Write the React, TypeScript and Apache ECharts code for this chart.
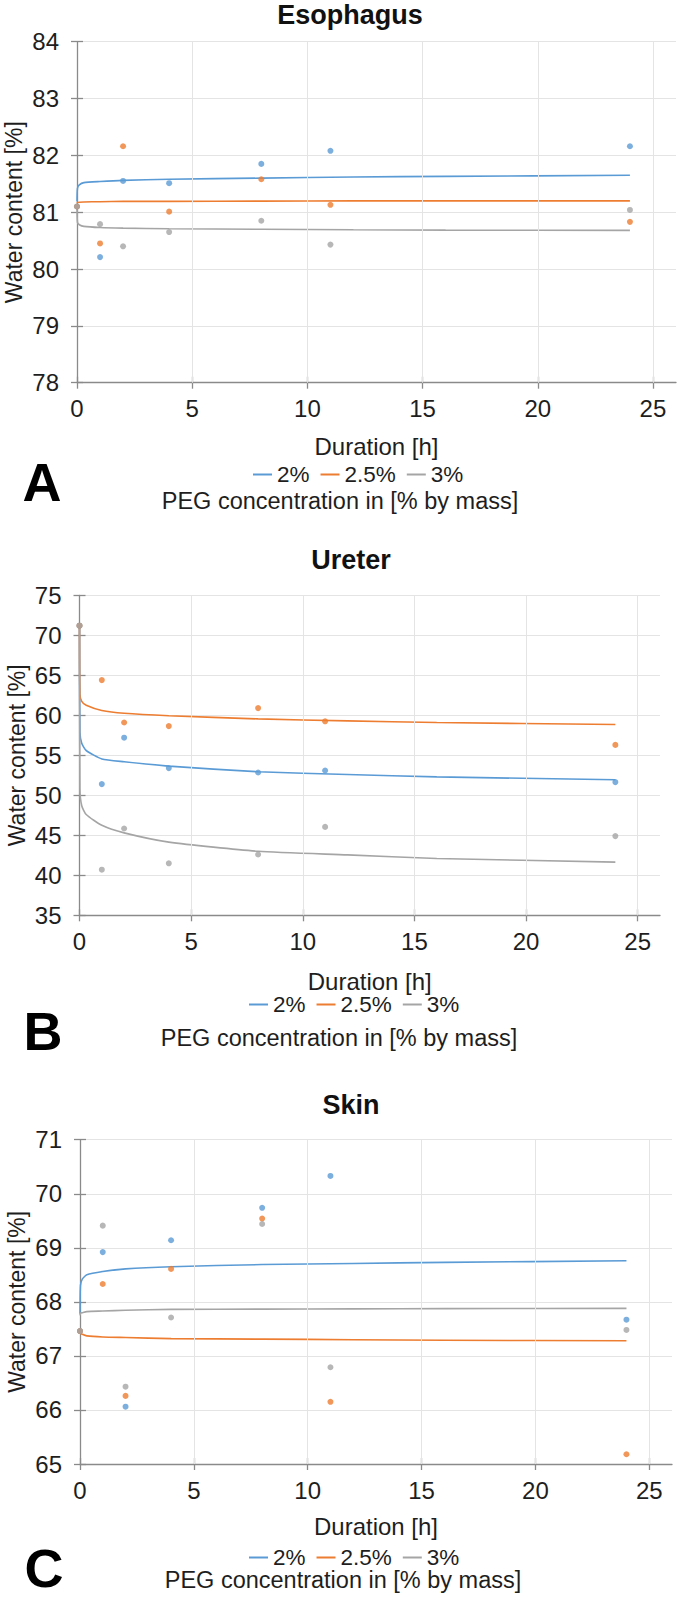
import React, { useEffect, useRef } from 'react';
import * as echarts from 'echarts';

const FONT = "'Liberation Sans', Arial, Helvetica, sans-serif";
const BLUE = '#5B9BD5';
const ORANGE = '#ED7D31';
const GRAY = '#A5A5A5';
const COLORS = [BLUE, ORANGE, GRAY];
const TEXT = '#1e1e1e';
const AXIS = '#8a8a8a';
const GRID = '#e4e4e4';

// ---- data ----
const seriesNames = ['2%', '2.5%', '3%'];
const hours = [0, 1, 2, 4, 8, 11, 24];
const trendHours = [0, 0.02, 0.1, 0.3, 1, 2, 4, 8, 12, 16, 24];
const xTicks = [0, 5, 10, 15, 20, 25];

// Esophagus
const esoBlue = [81.1, 80.21, 81.55, 81.51, 81.85, 82.08, 82.16];
const esoOrange = [81.1, 80.45, 82.16, 81.01, 81.58, 81.13, 80.83];
const esoGray = [81.1, 80.79, 80.4, 80.65, 80.85, 80.43, 81.04];
const esoBlueTrend = [81.19, 81.42, 81.48, 81.52, 81.54, 81.56, 81.58, 81.6, 81.62, 81.63, 81.65];
const esoOrangeTrend = [81.16, 81.17, 81.175, 81.18, 81.185, 81.19, 81.19, 81.195, 81.2, 81.2, 81.2];
const esoGrayTrend = [81.1, 80.82, 80.78, 80.75, 80.73, 80.72, 80.71, 80.7, 80.69, 80.685, 80.68];

// Ureter
const ureBlue = [71.2, 51.4, 57.2, 53.4, 52.85, 53.1, 51.65];
const ureOrange = [71.2, 64.4, 59.1, 58.65, 60.9, 59.25, 56.3];
const ureGray = [71.2, 40.7, 45.85, 41.5, 42.6, 46.05, 44.9];
const ureBlueTrend = [71.2, 57.9, 56.5, 55.6, 54.55, 54.2, 53.65, 52.95, 52.6, 52.3, 51.95];
const ureOrangeTrend = [71.2, 62.6, 61.75, 61.25, 60.6, 60.25, 59.95, 59.55, 59.3, 59.1, 58.85];
const ureGrayTrend = [71.2, 50.8, 48.7, 47.6, 46.25, 45.3, 44.15, 43.0, 42.55, 42.1, 41.65];

// Skin
const skinBlue = [67.46, 68.92, 66.06, 69.14, 69.74, 70.33, 67.67];
const skinOrange = [67.46, 68.33, 66.26, 68.61, 69.54, 66.15, 65.18];
const skinGray = [67.46, 69.41, 66.43, 67.71, 69.44, 66.79, 67.48];
const skinBlueTrend = [67.78, 68.3, 68.42, 68.5, 68.56, 68.61, 68.65, 68.69, 68.71, 68.73, 68.76];
const skinOrangeTrend = [67.46, 67.42, 67.4, 67.37, 67.35, 67.34, 67.32, 67.31, 67.3, 67.29, 67.28];
const skinGrayTrend = [67.75, 67.79, 67.8, 67.82, 67.83, 67.845, 67.86, 67.865, 67.87, 67.875, 67.88];

const panels = [
  { title: 'Esophagus', letter: 'A', yMin: 78, yMax: 84, yStep: 1,
    points: [esoBlue, esoOrange, esoGray], trends: [esoBlueTrend, esoOrangeTrend, esoGrayTrend] },
  { title: 'Ureter', letter: 'B', yMin: 35, yMax: 75, yStep: 5,
    points: [ureBlue, ureOrange, ureGray], trends: [ureBlueTrend, ureOrangeTrend, ureGrayTrend] },
  { title: 'Skin', letter: 'C', yMin: 65, yMax: 71, yStep: 1,
    points: [skinBlue, skinOrange, skinGray], trends: [skinBlueTrend, skinOrangeTrend, skinGrayTrend] },
];

// ---- layout ----
const layouts = [
  { left: 77, right: 676, top: 41.7, bottom: 382.7, titleX: 350, titleY: 15, yNameX: 14, durY: 446,
    legendLeft: 253, legendY: 474, pegX: 340, pegY: 501, letterX: 42, letterY: 482 },
  { left: 79.5, right: 660, top: 595.3, bottom: 915.3, titleX: 351, titleY: 560, yNameX: 17, durY: 981,
    legendLeft: 249, legendY: 1004, pegX: 339, pegY: 1038, letterX: 43, letterY: 1031 },
  { left: 80, right: 672, top: 1139.7, bottom: 1464, titleX: 351, titleY: 1105, yNameX: 17, durY: 1526,
    legendLeft: 249, legendY: 1557, pegX: 343, pegY: 1580, letterX: 44, letterY: 1568 },
];

function buildOption() {
  const grid: any[] = [];
  const xAxis: any[] = [];
  const yAxis: any[] = [];
  const series: any[] = [];
  const legend: any[] = [];
  const graphic: any[] = [];

  panels.forEach((p, i) => {
    const l = layouts[i];
    grid.push({ left: l.left, top: l.top, width: l.right - l.left, height: l.bottom - l.top,
      containLabel: false, outerBoundsMode: 'none' });
    const tickStyle = { color: AXIS, width: 1.3 };
    xAxis.push({
      type: 'value', gridIndex: i, min: 0, max: 26, position: 'bottom',
      axisLine: { show: true, onZero: false, lineStyle: tickStyle },
      axisTick: { show: true, length: 6, customValues: xTicks, lineStyle: tickStyle },
      axisLabel: { customValues: xTicks, fontSize: 24, color: TEXT, fontFamily: FONT, margin: 14 },
      splitLine: { show: false },
    });
    xAxis.push({
      type: 'value', gridIndex: i, min: 0, max: 26, position: 'bottom',
      axisLine: { show: false, onZero: false },
      axisTick: { show: true, inside: true, length: 6, customValues: xTicks, lineStyle: tickStyle },
      axisLabel: { show: false },
      splitLine: { show: false },
    });
    yAxis.push({
      type: 'value', gridIndex: i, min: p.yMin, max: p.yMax, interval: p.yStep, position: 'left',
      axisLine: { show: true, onZero: false, lineStyle: tickStyle },
      axisTick: { show: true, length: 6, lineStyle: tickStyle },
      axisLabel: { fontSize: 24, color: TEXT, fontFamily: FONT, margin: 18 },
      splitLine: { show: true, lineStyle: { color: GRID, width: 1 } },
    });
    yAxis.push({
      type: 'value', gridIndex: i, min: p.yMin, max: p.yMax, interval: p.yStep, position: 'left',
      axisLine: { show: false, onZero: false },
      axisTick: { show: true, inside: true, length: 6, lineStyle: tickStyle },
      axisLabel: { show: false },
      splitLine: { show: false },
    });

    // vertical grid lines
    series.push({
      type: 'line', name: 'grid' + i, xAxisIndex: 2 * i, yAxisIndex: 2 * i, data: [], silent: true, z: 1,
      markLine: {
        silent: true, symbol: 'none', label: { show: false },
        lineStyle: { color: GRID, type: 'solid', width: 1 },
        emphasis: { disabled: true },
        data: xTicks.filter((v) => v > 0).map((v) => ({ xAxis: v })),
      },
    });

    p.trends.forEach((tr, k) => {
      series.push({
        type: 'line', name: seriesNames[k], xAxisIndex: 2 * i, yAxisIndex: 2 * i,
        data: trendHours.map((t, j) => [t, tr[j]]),
        showSymbol: false, symbol: 'none', smooth: 0.2,
        lineStyle: { color: COLORS[k], width: 1.6 }, itemStyle: { color: COLORS[k] },
        z: 2, silent: true,
      });
    });
    p.points.forEach((pts, k) => {
      series.push({
        type: 'scatter', name: seriesNames[k] + ' measured', xAxisIndex: 2 * i, yAxisIndex: 2 * i,
        data: hours.map((t, j) => [t, pts[j]]),
        symbolSize: 6, itemStyle: { color: COLORS[k] }, z: 3, silent: true,
      });
    });

    legend.push({
      data: seriesNames, left: l.legendLeft, top: l.legendY - 11, orient: 'horizontal', padding: 0,
      itemWidth: 19, itemHeight: 2, itemGap: 11, icon: 'rect', selectedMode: false,
      textStyle: { fontSize: 22.5, color: TEXT, fontFamily: FONT, lineHeight: 22 },
    });

    const midY = (l.top + l.bottom) / 2;
    const midX = (l.left + l.right) / 2;
    graphic.push(
      { type: 'text', x: l.titleX, y: l.titleY, silent: true,
        style: { text: p.title, fontSize: 27, fontWeight: 'bold', fontFamily: FONT, fill: '#111',
          align: 'center', verticalAlign: 'middle' } },
      { type: 'text', x: l.yNameX, y: midY, rotation: Math.PI / 2, silent: true,
        style: { text: 'Water content [%]', fontSize: 23, fontFamily: FONT, fill: TEXT,
          align: 'center', verticalAlign: 'middle' } },
      { type: 'text', x: midX, y: l.durY, silent: true,
        style: { text: 'Duration [h]', fontSize: 24, fontFamily: FONT, fill: TEXT,
          align: 'center', verticalAlign: 'middle' } },
      { type: 'text', x: l.pegX, y: l.pegY, silent: true,
        style: { text: 'PEG concentration in [% by mass]', fontSize: 23.5, fontFamily: FONT, fill: TEXT,
          align: 'center', verticalAlign: 'middle' } },
      { type: 'text', x: l.letterX, y: l.letterY, silent: true,
        style: { text: p.letter, fontSize: 54, fontWeight: 'bold', fontFamily: FONT, fill: '#000',
          align: 'center', verticalAlign: 'middle' } },
    );
  });

  return {
    animation: false,
    backgroundColor: '#ffffff',
    textStyle: { fontFamily: FONT },
    grid, xAxis, yAxis, series, legend, graphic,
  };
}

export default function App() {
  const ref = useRef<HTMLDivElement>(null);
  useEffect(() => {
    document.body.style.margin = '0';
    const chart = echarts.init(ref.current as HTMLDivElement, null, { renderer: 'svg', width: 680, height: 1600 });
    chart.setOption(buildOption() as any);
    return () => chart.dispose();
  }, []);
  return <div ref={ref} style={{ width: 680, height: 1600 }} />;
}
